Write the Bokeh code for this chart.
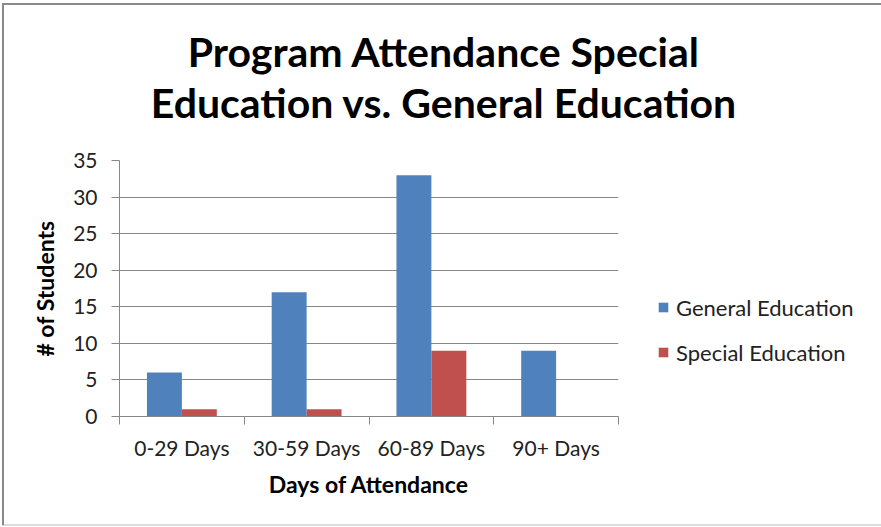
from bokeh.plotting import figure
from bokeh.layouts import column, row
from bokeh.models import Range1d, FixedTicker, Legend, LegendItem, Label
from bokeh.embed import file_html
from bokeh.resources import INLINE

# ---- data ----
categories = ["0-29 Days", "30-59 Days", "60-89 Days", "90+ Days"]
general_ed = [6, 17, 33, 9]
special_ed = [1, 1, 9, 0]
y_ticks = [0, 5, 10, 15, 20, 25, 30, 35]
series_names = ["General Education", "Special Education"]
title_lines = ["Program Attendance Special", "Education vs. General Education"]

BLUE = "#4F81BD"
RED = "#C0504D"
GRID = "#878787"
FONT = "Lato"

n = len(categories)
bar_w = 0.28
centers = [i + 0.5 for i in range(n)]

W, H = 881, 527
TITLE_H = 140
MAIN_W = 619
PLOT_B = 416


def blank(fig):
    fig.outline_line_color = None
    fig.background_fill_color = None
    fig.border_fill_color = None


# ---- title strip ----
pt = figure(width=W, height=TITLE_H, output_backend="svg", toolbar_location=None,
            x_axis_type=None, y_axis_type=None, min_border=0)
blank(pt)
pt.xgrid.grid_line_color = None
pt.ygrid.grid_line_color = None
for txt, yc in zip(title_lines, [51, 102]):
    pt.add_layout(Label(x=443.5, y=TITLE_H - yc, x_units="screen", y_units="screen",
                        text=txt, text_align="center", text_baseline="middle",
                        text_font=FONT, text_font_style="bold",
                        text_font_size="41px", text_color="#000000"))

# ---- main chart ----
p = figure(width=MAIN_W, height=H - TITLE_H, output_backend="svg", toolbar_location=None,
           x_range=Range1d(0, n), y_range=Range1d(0, y_ticks[-1]),
           min_border_left=119, min_border_right=1,
           min_border_top=20, min_border_bottom=H - PLOT_B)
blank(p)

p.vbar(x=[c - bar_w / 2 for c in centers], top=general_ed, width=bar_w,
       fill_color=BLUE, line_color=None)
p.vbar(x=[c + bar_w / 2 for c in centers], top=special_ed, width=bar_w,
       fill_color=RED, line_color=None)

p.xgrid.grid_line_color = None
p.ygrid.grid_line_color = GRID
p.ygrid.ticker = FixedTicker(ticks=y_ticks)

ya = p.yaxis[0]
ya.ticker = FixedTicker(ticks=y_ticks)
ya.axis_line_color = GRID
ya.major_tick_line_color = GRID
ya.major_tick_out = 8
ya.major_tick_in = 0
ya.minor_tick_line_color = None
ya.major_label_standoff = 14
ya.major_label_text_font = FONT
ya.major_label_text_font_size = "21px"
ya.major_label_text_color = "#222222"
ya.axis_label = "# of Students"
ya.axis_label_text_font = FONT
ya.axis_label_text_font_style = "bold"
ya.axis_label_text_font_size = "23px"
ya.axis_label_text_color = "#000000"
ya.axis_label_standoff = 11

xa = p.xaxis[0]
xa.ticker = FixedTicker(ticks=centers, minor_ticks=list(range(n + 1)))
xa.major_label_overrides = {c: lab for c, lab in zip(centers, categories)}
xa.axis_line_color = GRID
xa.major_tick_line_color = None
xa.major_tick_out = 0
xa.major_tick_in = 0
xa.minor_tick_line_color = GRID
xa.minor_tick_out = 8
xa.minor_tick_in = 0
xa.major_label_standoff = 10
xa.major_label_text_font = FONT
xa.major_label_text_font_size = "21px"
xa.major_label_text_color = "#222222"
xa.axis_label = "Days of Attendance"
xa.axis_label_text_font = FONT
xa.axis_label_text_font_style = "bold"
xa.axis_label_text_font_size = "23px"
xa.axis_label_text_color = "#000000"
xa.axis_label_standoff = 7

# ---- legend strip (frame is aligned with the main chart's frame) ----
pl = figure(width=W - MAIN_W, height=H - TITLE_H, output_backend="svg",
            toolbar_location=None, x_axis_type=None, y_axis_type=None, min_border=0,
            x_range=Range1d(0, 1), y_range=Range1d(0, 1))
blank(pl)
pl.xgrid.grid_line_color = None
pl.ygrid.grid_line_color = None
# legend keys: same series, hidden renderers used only as legend swatches
k_gen = pl.vbar(x=centers, top=general_ed, width=bar_w, fill_color=BLUE,
                line_color=None, visible=False)
k_spe = pl.vbar(x=centers, top=special_ed, width=bar_w, fill_color=RED,
                line_color=None, visible=False)
legend = Legend(items=[LegendItem(label=series_names[0], renderers=[k_gen]),
                       LegendItem(label=series_names[1], renderers=[k_spe])],
                location=(657 - MAIN_W, PLOT_B - 365.5), padding=0, margin=0,
                spacing=18, glyph_width=12, glyph_height=12, label_height=26,
                label_standoff=7, label_text_font=FONT, label_text_font_size="22px",
                label_text_color="#222222", border_line_color=None,
                background_fill_alpha=0, inactive_fill_alpha=0)
pl.add_layout(legend)

layout = column(pt, row(p, pl, spacing=0), spacing=0)
layout.styles = {
    "background": ("linear-gradient(#8a8a8a,#8a8a8a) 2px 4px / 2px 521px no-repeat, "
                   "linear-gradient(#8a8a8a,#8a8a8a) 2px 3px / 880px 2px no-repeat, "
                   "linear-gradient(#dcdcdc,#dcdcdc) 2px 524px / 880px 2px no-repeat, "
                   "white"),
}

open("out.html", "w").write(file_html(layout, INLINE))
